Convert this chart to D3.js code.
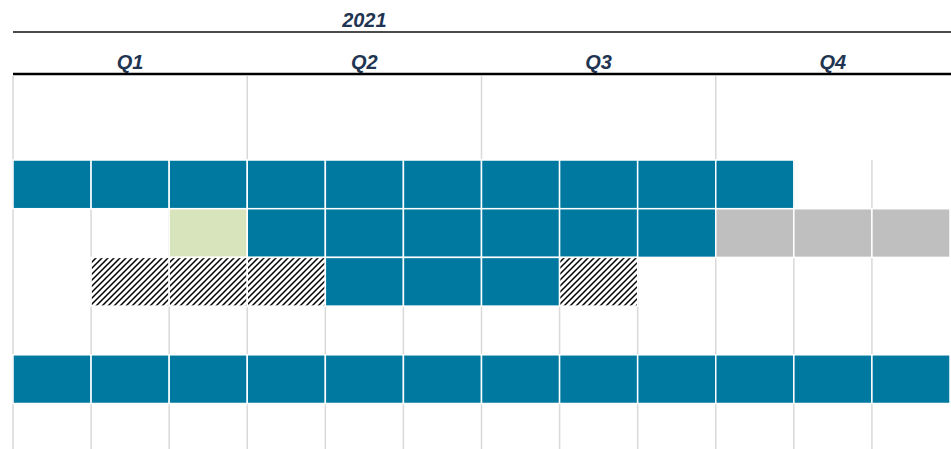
<!DOCTYPE html>
<html><head><meta charset="utf-8">
<script src="https://cdn.jsdelivr.net/npm/d3@7"></script>
<style>html,body{margin:0;padding:0;background:#fff;overflow:hidden}</style>
</head><body>
<svg id="chart" width="951" height="449"></svg>
<script>
const year = "2021";
const quarters = ["Q1", "Q2", "Q3", "Q4"];
const months = ["Jan","Feb","Mar","Apr","May","Jun","Jul","Aug","Sep","Oct","Nov","Dec"];
const rows = ["Row 1", "Row 2", "Row 3", "Row 4", "Row 5", "Row 6"];
// task segments (month indices inclusive)
const segRow    = ["Row 1", "Row 2", "Row 2", "Row 2", "Row 3", "Row 3", "Row 3", "Row 5"];
const segStart  = [0, 2, 3, 9, 1, 4, 7, 0];
const segEnd    = [9, 2, 8, 11, 3, 6, 7, 11];
const segStatus = ["active", "planned", "active", "future", "hatched", "active", "hatched", "active"];

const colors = {active: "#0079a1", planned: "#d8e4bc", future: "#bfbfbf", hatched: "url(#hatch)"};

const svg = d3.select("#chart");
const W = 951, H = 449;
const x = d3.scaleBand().domain(months).range([13, 950]);
const y = d3.scaleBand().domain(rows).range([160, 160 + 6 * 48.7]);
const qx = d3.scaleBand().domain(quarters).range([13, 950]);

const defs = svg.append("defs");
const pat = defs.append("pattern").attr("id", "hatch").attr("patternUnits", "userSpaceOnUse")
  .attr("width", 6).attr("height", 6);
pat.append("rect").attr("width", 6).attr("height", 6).attr("fill", "#fff");
pat.append("path").attr("d", "M-1.5,1.5 L1.5,-1.5 M0,6 L6,0 M4.5,7.5 L7.5,4.5")
  .attr("stroke", "#000").attr("stroke-width", 1.5);

// grid lines
const gridG = svg.append("g");
months.forEach((m, i) => {
  const isQ = i % 3 === 0;
  gridG.append("line")
    .attr("x1", x(m)).attr("x2", x(m))
    .attr("y1", isQ ? 76 : 160).attr("y2", H)
    .attr("stroke", "#d9d9d9").attr("stroke-width", 1.5);
});

// cells
const cells = [];
segRow.forEach((r, k) => {
  for (let i = segStart[k]; i <= segEnd[k]; i++) cells.push({row: r, month: months[i], status: segStatus[k]});
});
svg.append("g").selectAll("rect").data(cells).join("rect")
  .attr("x", d => x(d.month)).attr("y", d => y(d.row))
  .attr("width", x.bandwidth()).attr("height", y.bandwidth())
  .attr("fill", d => colors[d.status])
  .attr("stroke", "#fff").attr("stroke-width", 1.5);

// header
const font = "'Liberation Sans', Arial, sans-serif";
svg.append("text").attr("x", qx("Q2") + qx.bandwidth() / 2).attr("y", 27)
  .attr("text-anchor", "middle").attr("font-family", font).attr("font-size", 20)
  .attr("font-weight", "bold").attr("font-style", "italic").attr("fill", "#1f3552").text(year);
svg.append("line").attr("x1", 13).attr("x2", W).attr("y1", 32).attr("y2", 32)
  .attr("stroke", "#111").attr("stroke-width", 1.5);
svg.append("g").selectAll("text").data(quarters).join("text")
  .attr("x", d => qx(d) + qx.bandwidth() / 2).attr("y", 69)
  .attr("text-anchor", "middle").attr("font-family", font).attr("font-size", 20)
  .attr("font-weight", "bold").attr("font-style", "italic").attr("fill", "#1f3552").text(d => d);
svg.append("line").attr("x1", 13).attr("x2", W).attr("y1", 74).attr("y2", 74)
  .attr("stroke", "#000").attr("stroke-width", 2.5);
</script>
</body></html>
